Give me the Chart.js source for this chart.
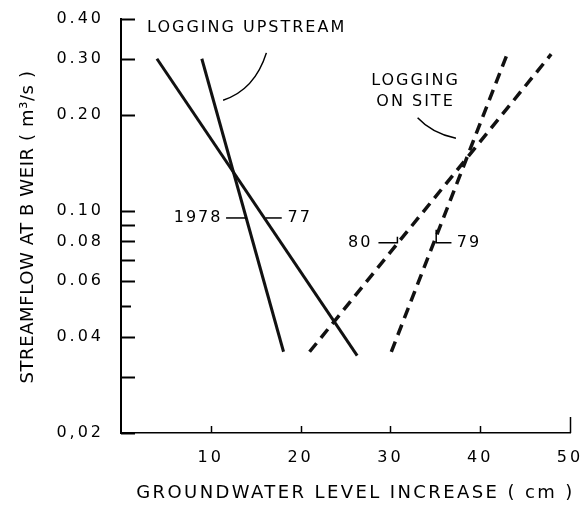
<!DOCTYPE html>
<html>
<head>
<meta charset="utf-8">
<script src="https://cdn.jsdelivr.net/npm/chart.js@4"></script>
<style>
  html, body { margin: 0; padding: 0; background: #fff; }
  canvas { display: block; }
</style>
</head>
<body>
<canvas id="chart" width="587" height="505"></canvas>
<script>
// end points of each fitted line: groundwater rise (cm) vs streamflow (m3/s)
var rise1978 = [9.0, 18.1];
var flow1978 = [0.30, 0.036];
var rise77 = [4.0, 26.3];
var flow77 = [0.30, 0.035];
var rise80 = [21.0, 47.9];
var flow80 = [0.036, 0.31];
var rise79 = [30.1, 43.0];
var flow79 = [0.036, 0.31];

var xTicks = [10, 20, 30, 40, 50];
var yTicks = [0.02, 0.03, 0.04, 0.05, 0.06, 0.07, 0.08, 0.09, 0.10, 0.20, 0.30, 0.40];
var yTickLabels = ['0,02', '', '0.04', '', '0.06', '', '0.08', '', '0.10', '0.20', '0.30', '0.40'];

var FONT = 'DejaVu Sans';

function pts(xs, ys) {
  return xs.map(function (x, i) { return { x: x, y: ys[i] }; });
}

function lineSet(label, xs, ys, dashed) {
  return {
    label: label,
    data: pts(xs, ys),
    borderColor: '#111',
    borderWidth: dashed ? 3.5 : 3,
    borderDash: dashed ? [11, 7] : [],
    pointRadius: 0,
    tension: 0,
    fill: false
  };
}

// notes placed in data units so they follow the scales
var notes = [
  { text: 'LOGGING UPSTREAM', x: 2.9, y: 0.375, align: 'left' },
  { text: 'LOGGING', x: 32.8, y: 0.256, align: 'center' },
  { text: 'ON SITE', x: 32.8, y: 0.220, align: 'center' },
  { text: '1978', x: 11.3, y: 0.0948, align: 'right' },
  { text: '77', x: 18.55, y: 0.0948, align: 'left' },
  { text: '80', x: 28.0, y: 0.0792, align: 'right' },
  { text: '79', x: 37.4, y: 0.0792, align: 'left' }
];
var curves = [
  [[16.19, 0.313], [14.9, 0.2396], [11.37, 0.2223]],
  [[33.03, 0.1958], [34.61, 0.1752], [37.3, 0.1687]]
];
var pointers = [
  [[11.7, 0.0948], [14.0, 0.0948]],
  [[16.1, 0.0948], [17.9, 0.0948]],
  [[28.67, 0.0792], [30.78, 0.0792], [30.78, 0.0827]],
  [[35.1, 0.0870], [35.1, 0.0792], [36.8, 0.0792]]
];

var spacing = {
  id: 'spacing',
  beforeDraw: function (chart) { chart.ctx.letterSpacing = '3px'; },
  beforeDatasetsDraw: function (chart) { chart.ctx.letterSpacing = '0px'; }
};

var extras = {
  id: 'extras',
  afterDatasetsDraw: function (chart) {
    var ctx = chart.ctx, a = chart.chartArea;
    var xs = chart.scales.x, ys = chart.scales.y;
    function P(p) { return [xs.getPixelForValue(p[0]), ys.getPixelForValue(p[1])]; }
    ctx.save();
    ctx.strokeStyle = '#000';
    ctx.fillStyle = '#000';
    ctx.lineCap = 'butt';

    // tick marks point into the plot
    ctx.lineWidth = 2;
    yTicks.forEach(function (v) {
      var py = Math.round(ys.getPixelForValue(v)) + 0.5;
      ctx.beginPath();
      ctx.moveTo(a.left, py);
      ctx.lineTo(a.left + (v === 0.05 ? 10 : 14), py);
      ctx.stroke();
    });
    ctx.lineWidth = 1.5;
    xTicks.forEach(function (v) {
      var px = Math.round(xs.getPixelForValue(v)) + 0.5;
      ctx.beginPath();
      ctx.moveTo(px, a.bottom);
      ctx.lineTo(px, a.bottom - (v === 50 ? 16 : 7));
      ctx.stroke();
    });

    // leaders
    ctx.lineWidth = 1.5;
    curves.forEach(function (c) {
      var p0 = P(c[0]), p1 = P(c[1]), p2 = P(c[2]);
      ctx.beginPath();
      ctx.moveTo(p0[0], p0[1]);
      ctx.quadraticCurveTo(p1[0], p1[1], p2[0], p2[1]);
      ctx.stroke();
    });
    pointers.forEach(function (line) {
      ctx.beginPath();
      line.forEach(function (p, i) {
        var q = P(p);
        if (i === 0) ctx.moveTo(q[0], q[1]); else ctx.lineTo(q[0], q[1]);
      });
      ctx.stroke();
    });

    // annotation text
    ctx.font = '16px "' + FONT + '"';
    ctx.letterSpacing = '2px';
    ctx.textBaseline = 'middle';
    notes.forEach(function (n) {
      var q = P([n.x, n.y]);
      ctx.textAlign = n.align;
      ctx.fillText(n.text, q[0], q[1]);
    });

    // axis titles
    ctx.font = '18px "' + FONT + '"';
    ctx.letterSpacing = '2.4px';
    ctx.textAlign = 'center';
    ctx.fillText('GROUNDWATER LEVEL INCREASE ( cm )', (a.left + a.right) / 2 + 10, 493);
    ctx.save();
    ctx.translate(28, (a.top + a.bottom) / 2 + 1);
    ctx.rotate(-Math.PI / 2);
    ctx.letterSpacing = '0.6px';
    ctx.fillText('STREAMFLOW AT B WEIR ( m\u00b3/s )', 0, 0);
    ctx.restore();

    ctx.restore();
  }
};

new Chart(document.getElementById('chart').getContext('2d'), {
  type: 'line',
  data: {
    datasets: [
      lineSet('1978', rise1978, flow1978, false),
      lineSet('77', rise77, flow77, false),
      lineSet('80', rise80, flow80, true),
      lineSet('79', rise79, flow79, true)
    ]
  },
  options: {
    responsive: false,
    animation: false,
    layout: { padding: { top: 19, right: 17, left: 0, bottom: 0 } },
    plugins: { legend: { display: false }, tooltip: { enabled: false } },
    scales: {
      x: {
        type: 'linear',
        min: 0,
        max: 50,
        afterBuildTicks: function (s) { s.ticks = xTicks.map(function (v) { return { value: v }; }); },
        afterFit: function (s) { s.height = 72; s.paddingLeft = 0; s.paddingRight = 0; },
        grid: { display: false, drawTicks: false },
        border: { display: true, color: '#000', width: 1.5 },
        ticks: {
          autoSkip: false,
          maxRotation: 0,
          padding: 15,
          color: '#000',
          font: { family: FONT, size: 16 },
          callback: function (v) { return String(v); }
        }
      },
      y: {
        type: 'logarithmic',
        min: 0.02,
        max: 0.4,
        afterBuildTicks: function (s) { s.ticks = yTicks.map(function (v) { return { value: v }; }); },
        afterFit: function (s) { s.width = 121; s.paddingTop = 0; s.paddingBottom = 0; },
        grid: { display: false, drawTicks: false },
        border: { display: true, color: '#000', width: 2 },
        ticks: {
          autoSkip: false,
          padding: 17,
          color: '#000',
          font: { family: FONT, size: 16 },
          callback: function (v, i) { return yTickLabels[i]; }
        }
      }
    }
  },
  plugins: [spacing, extras]
});
</script>
</body>
</html>
